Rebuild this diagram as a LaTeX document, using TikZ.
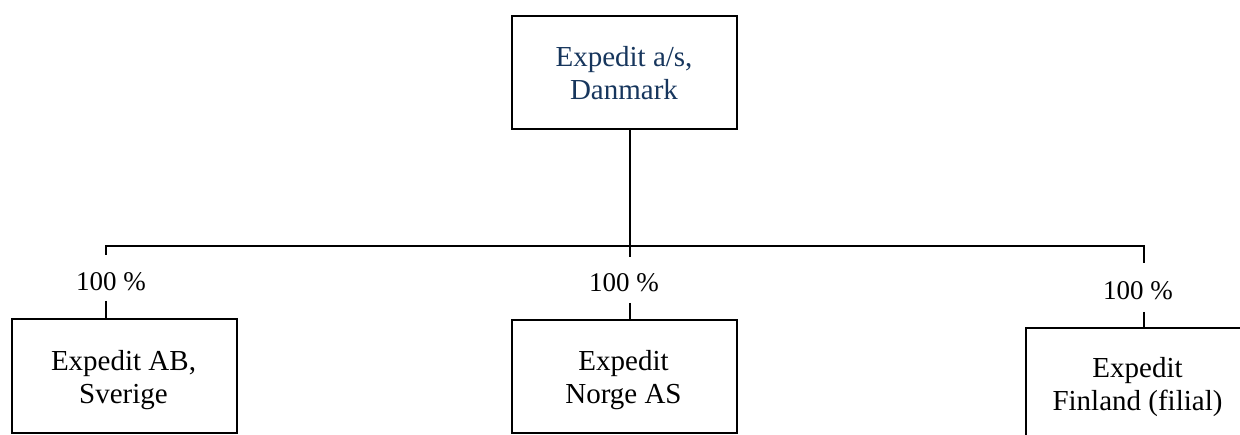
\documentclass[tikz,border=0pt]{standalone}
\usepackage{fontspec}
\setmainfont{Liberation Serif}
\definecolor{navy}{HTML}{17365D}
\begin{document}
\begin{tikzpicture}[x=1pt,y=-1pt,
  boxshape/.style={draw=black,line width=2.2pt,fill=white},
  lbl/.style={font=\fontsize{29}{33}\selectfont,align=center,anchor=base,inner sep=0pt},
  pct/.style={font=\fontsize{27}{33}\selectfont,anchor=base,inner sep=0pt},
  conn/.style={line width=2pt,black},
  bar/.style={line width=2.8pt,black}]
\useasboundingbox (0,0) rectangle (1240,435);
\begin{scope}
\clip (0,0) rectangle (1240,435);
% boxes
\path[boxshape] (512,16) rectangle (737,129);
\coordinate (topbot) at (630,129);
\node[lbl,text=navy] (top) at (624,100) {Expedit a/s,\\Danmark};
\path[boxshape] (12,319) rectangle (237,433);
\coordinate (atop) at (106,319);
\node[lbl] (se) at (123.5,404) {Expedit AB,\\Sverige};
\path[boxshape] (512,320) rectangle (737,433);
\coordinate (btop) at (630,320);
\node[lbl] (no) at (623.5,404) {Expedit\\Norge AS};
\path[boxshape] (1026,328) rectangle (1252,446);
\coordinate (ctop) at (1144,328);
\node[lbl] (fi) at (1137.5,411) {Expedit\\Finland (filial)};
% connectors
\coordinate (bj) at (630,246);
\coordinate (bl) at (106,246);
\coordinate (br) at (1144,246);
\draw[conn] (topbot) -- (bj);
\draw[bar,line cap=rect] (bl) -- (br);
\coordinate (a1) at (106,255);
\coordinate (a2) at (106,301);
\coordinate (b1) at (630,257);
\coordinate (b2) at (630,303);
\coordinate (c1) at (1144,263);
\coordinate (c2) at (1144,312);
\draw[conn] (bl) -- (a1);
\draw[conn] (a2) -- (atop);
\draw[conn] (bj) -- (b1);
\draw[conn] (b2) -- (btop);
\draw[conn] (br) -- (c1);
\draw[conn] (c2) -- (ctop);
\node[pct] (pa) at (111,291) {100 \%};
\node[pct] (pb) at (624,292) {100 \%};
\node[pct] (pc) at (1138,300) {100 \%};
\end{scope}
\end{tikzpicture}
\end{document}
